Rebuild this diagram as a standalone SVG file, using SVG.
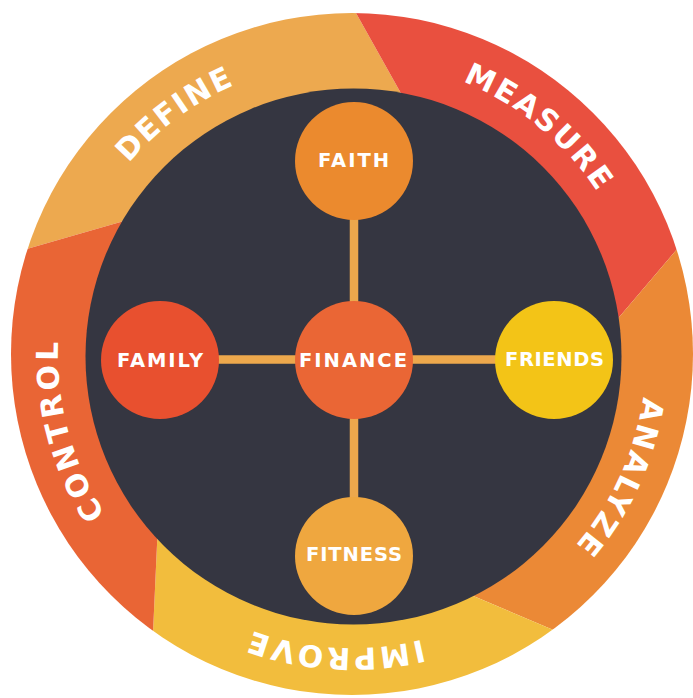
<svg xmlns="http://www.w3.org/2000/svg" width="693" height="698" viewBox="0 0 693 698">
<style>
.ring{font-family:"DejaVu Sans","Liberation Sans",sans-serif;font-weight:bold;font-size:30px;fill:#fff}
.lbl{font-family:"DejaVu Sans","Liberation Sans",sans-serif;font-weight:bold;font-size:19.5px;fill:#fff;text-anchor:middle}
.conn{stroke:#EDA84C;stroke-width:8.5;fill:none}
</style>
<defs>
<clipPath id="outer"><circle cx="352" cy="354" r="341"/></clipPath>
<path id="pDefine" d="M 101.1 507.2 A 294 294 0 0 1 572.5 159.6"/>
<path id="pMeasure" d="M 142.3 147.9 A 294 294 0 0 1 594.3 520.5"/>
<path id="pAnalyze" d="M 497.7 98.6 A 294 294 0 0 1 252.9 630.8"/>
<path id="pImprove" d="M 642.9 396.5 A 294 294 0 0 1 58.1 362.7"/>
<path id="pControl" d="M 403.0 643.5 A 294 294 0 0 1 251.4 77.7"/>
</defs>
<rect width="693" height="698" fill="#ffffff"/>
<g id="ring" clip-path="url(#outer)">
<path id="seg-define" fill="#EDA94F" d="M 352 354 L 151.8 213 L 3.9 255.5 A 364 364 0 0 1 343.4 -9.5 L 414.8 118 Z"/>
<path id="seg-measure" fill="#E9503F" d="M 352 354 L 414.8 118 L 343.4 -9.5 A 364 364 0 0 1 695.1 227.9 L 598.2 341.8 Z"/>
<path id="seg-analyze" fill="#EB8936" d="M 352 354 L 598.2 341.8 L 695.1 227.9 A 364 364 0 0 1 579.4 640.9 L 446.8 584.8 Z"/>
<path id="seg-improve" fill="#F2BD3D" d="M 352 354 L 446.8 584.8 L 579.4 640.9 A 364 364 0 0 1 151.8 659.4 L 158.6 509.8 Z"/>
<path id="seg-control" fill="#E96535" d="M 352 354 L 158.6 509.8 L 151.8 659.4 A 364 364 0 0 1 3.9 255.5 L 151.8 213 Z"/>
</g>
<circle id="core" cx="353.5" cy="356.5" r="268" fill="#353641"/>
<g id="ring-labels">
<text class="ring" style="letter-spacing:1.9px"><textPath href="#pDefine" startOffset="50%" text-anchor="middle">DEFINE</textPath></text>
<text class="ring" style="letter-spacing:2.2px"><textPath href="#pMeasure" startOffset="50%" text-anchor="middle">MEASURE</textPath></text>
<text class="ring" style="letter-spacing:2.6px"><textPath href="#pAnalyze" startOffset="50%" text-anchor="middle">ANALYZE</textPath></text>
<text class="ring" style="letter-spacing:3px"><textPath href="#pImprove" startOffset="50%" text-anchor="middle">IMPROVE</textPath></text>
<text class="ring" style="letter-spacing:3.5px"><textPath href="#pControl" startOffset="50%" text-anchor="middle">CONTROL</textPath></text>
</g>
<g id="connectors">
<line class="conn" x1="354" y1="215" x2="354" y2="305"/>
<line class="conn" x1="354" y1="415" x2="354" y2="500"/>
<line class="conn" x1="215" y1="359.5" x2="300" y2="359.5"/>
<line class="conn" x1="408" y1="359.5" x2="500" y2="359.5"/>
</g>
<g id="faith"><circle cx="354" cy="161" r="59" fill="#EB8A2E"/><text class="lbl" x="353.5" y="167" textLength="71">FAITH</text></g>
<g id="family"><circle cx="160" cy="360" r="59" fill="#E8502F"/><text class="lbl" x="160" y="367" textLength="86">FAMILY</text></g>
<g id="finance"><circle cx="354" cy="360" r="59" fill="#EA6635"/><text class="lbl" x="353" y="367" textLength="108">FINANCE</text></g>
<g id="friends"><circle cx="554" cy="360" r="59" fill="#F3C417"/><text class="lbl" x="554.5" y="366" textLength="99">FRIENDS</text></g>
<g id="fitness"><circle cx="354" cy="556" r="59" fill="#EFA73F"/><text class="lbl" x="354" y="561" textLength="96">FITNESS</text></g>
</svg>
